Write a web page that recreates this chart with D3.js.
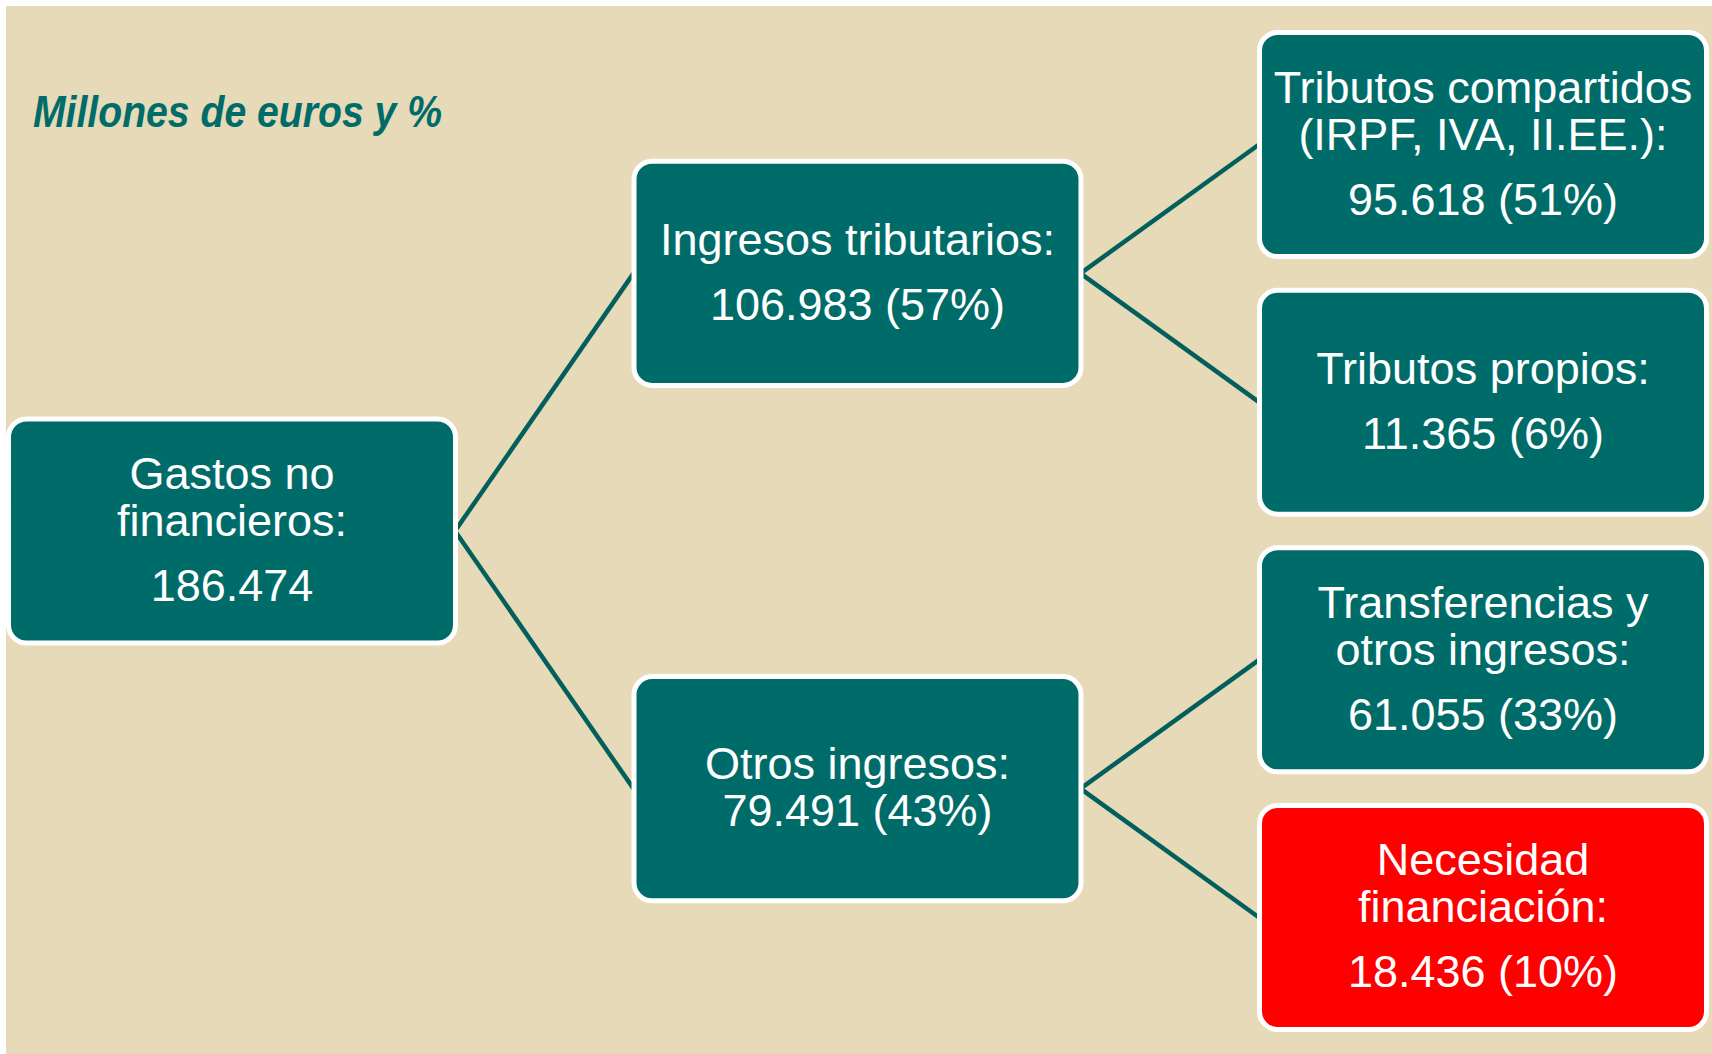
<!DOCTYPE html>
<html lang="es">
<head>
<meta charset="utf-8">
<script src="https://cdn.jsdelivr.net/npm/d3@7"></script>
<style>
  html, body { margin: 0; padding: 0; background: #ffffff; }
  svg { display: block; }
</style>
</head>
<body>
<script>
// ---- Data ----
const chartTitle = "Millones de euros y %";
const nodeIds = ["gastos", "tributarios", "otros", "compartidos", "propios", "transferencias", "necesidad"];
const parentIds = [null, "gastos", "gastos", "tributarios", "tributarios", "otros", "otros"];
const labelLines = [
  ["Gastos no", "financieros:"],
  ["Ingresos tributarios:"],
  ["Otros ingresos:"],
  ["Tributos compartidos", "(IRPF, IVA, II.EE.):"],
  ["Tributos propios:"],
  ["Transferencias y", "otros ingresos:"],
  ["Necesidad", "financiación:"]
];
const amounts = [186474, 106983, 79491, 95618, 11365, 61055, 18436];
const shares = [null, 57, 43, 51, 6, 33, 10];
const valueOwnParagraph = [true, true, false, true, true, true, true];
const isDeficit = [false, false, false, false, false, false, true];

// ---- Setup ----
const W = 1712, H = 1054;
const colors = { bg: "#e6dab8", box: "#006c69", deficit: "#ff0000", line: "#035f5b", title: "#006c69" };
const esLocale = d3.formatLocale({ decimal: ",", thousands: ".", grouping: [3], currency: ["", " €"] });
const fmt = esLocale.format(",d");

const rows = nodeIds.map((id, i) => ({
  id, parent: parentIds[i], lines: labelLines[i], amount: amounts[i], share: shares[i],
  own: valueOwnParagraph[i], deficit: isDeficit[i]
}));
const root = d3.stratify().id(d => d.id).parentId(d => d.parent)(rows);

const xBand = d3.scaleBand().domain([0, 1, 2]).range([6, 1709]).paddingInner(0.2774).paddingOuter(0);
const leaves = root.leaves();
const yBand = d3.scaleBand().domain(leaves.map(d => d.id)).range([30, 1032]).paddingInner(0.111).paddingOuter(0);
const bw = xBand.bandwidth(), bh = yBand.bandwidth();

root.eachAfter(n => {
  n.cy = n.children ? d3.mean(n.children, c => c.cy) : yBand(n.id) + bh / 2;
  n.x0 = xBand(n.depth);
});

const svg = d3.select("body").append("svg").attr("width", W).attr("height", H);
svg.append("rect").attr("x", 6).attr("y", 6).attr("width", W - 6).attr("height", H - 6).attr("fill", colors.bg);

// Title
svg.append("text")
  .attr("x", 33).attr("y", 127)
  .attr("font-family", "'Liberation Sans', Arial, sans-serif")
  .attr("font-size", 45).attr("font-weight", "bold").attr("font-style", "italic")
  .attr("fill", colors.title)
  .attr("textLength", 409).attr("lengthAdjust", "spacingAndGlyphs")
  .text(chartTitle);

// Links
svg.append("g").selectAll("line").data(root.links()).join("line")
  .attr("x1", d => d.source.x0 + bw - 3).attr("y1", d => d.source.cy)
  .attr("x2", d => d.target.x0 + 2).attr("y2", d => d.target.cy)
  .attr("stroke", colors.line).attr("stroke-width", 4.5);

// Boxes
const SW = 5;
const nodes = svg.append("g").selectAll("g").data(root.descendants()).join("g");
nodes.append("rect")
  .attr("x", d => d.x0 + SW / 2).attr("y", d => d.cy - bh / 2 + SW / 2)
  .attr("width", bw - SW).attr("height", bh - SW)
  .attr("rx", 18).attr("ry", 18)
  .attr("fill", d => d.data.deficit ? colors.deficit : colors.box)
  .attr("stroke", "#ffffff").attr("stroke-width", SW);

const LH = 47, GAP = 18, ASC = 37.5;
nodes.each(function (d) {
  const val = fmt(d.data.amount) + (d.data.share != null ? " (" + d.data.share + "%)" : "");
  const paras = d.data.own ? [d.data.lines, [val]] : [d.data.lines.concat([val])];
  const n = d3.sum(paras, p => p.length);
  const total = n * LH + (paras.length - 1) * GAP;
  let yy = d.cy - total / 2 + ASC;
  const items = [];
  paras.forEach(p => {
    p.forEach(t => { items.push({ t, y: yy }); yy += LH; });
    yy += GAP;
  });
  d3.select(this).selectAll("text").data(items).join("text")
    .attr("x", d.x0 + bw / 2).attr("y", e => e.y)
    .attr("text-anchor", "middle")
    .attr("font-family", "'Liberation Sans', Arial, sans-serif")
    .attr("font-size", 45).attr("fill", "#ffffff")
    .text(e => e.t);
});
</script>
</body>
</html>
